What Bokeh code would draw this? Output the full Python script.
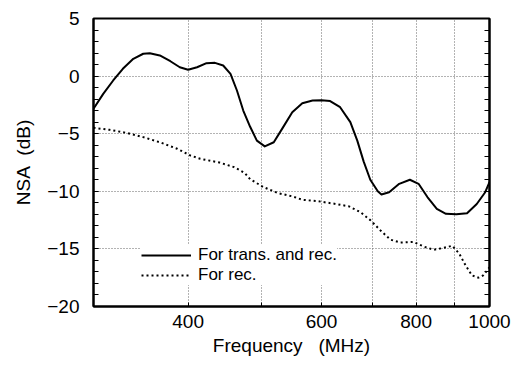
from bokeh.plotting import figure
from bokeh.models import FixedTicker, SingleIntervalTicker, LinearAxis, Legend, LegendItem, Range1d
from bokeh.embed import file_html
from bokeh.resources import INLINE

# Data
freq_tr = [300, 309, 318.5, 328, 338.6, 349, 356, 367, 379, 390, 400, 411, 423, 434, 445, 455,
           464, 473, 483, 493, 505, 519, 534, 549, 566, 584, 600, 616, 635, 655, 669, 682, 696,
           712, 720, 737, 760, 785, 806, 828, 852, 876, 904, 934, 962, 987, 1000]
nsa_tr = [-2.84, -1.54, -0.38, 0.63, 1.5, 1.94, 1.99, 1.79, 1.29, 0.77, 0.55, 0.77, 1.12, 1.15,
          0.92, 0.2, -1.25, -2.99, -4.4, -5.6, -6.1, -5.74, -4.43, -3.13, -2.35, -2.12, -2.1,
          -2.17, -2.7, -4.0, -5.6, -7.4, -9.0, -10.0, -10.28, -10.08, -9.35, -9.0, -9.35, -10.5,
          -11.52, -11.95, -12.0, -11.9, -11.1, -10.08, -9.2]

freq_r = [300, 315, 333, 349, 367, 387, 403, 415, 440, 460, 475, 483, 503, 526, 550, 566, 592,
          624, 652, 675, 696, 718, 740, 763, 794, 819, 844, 871, 893, 912, 930, 948, 967, 981, 1000]
nsa_r = [-4.49, -4.66, -4.95, -5.3, -5.74, -6.31, -6.9, -7.18, -7.5, -7.9, -8.4, -8.95, -9.64,
         -10.16, -10.45, -10.74, -10.85, -11.08, -11.3, -11.8, -12.5, -13.4, -14.2, -14.45, -14.4,
         -14.8, -15.08, -14.9, -14.73, -15.4, -16.44, -17.3, -17.5, -17.3, -16.6]

x_ticks = [400, 500, 600, 700, 800, 900, 1000]
x_tick_labels = ["400", "", "600", "", "800", "", "1000"]
x_grid = [400, 500, 600, 700, 800, 900]
y_grid = [-15, -10, -5, 0]

FONT = "Liberation Sans"
NB = "\u00a0"

p = figure(width=517, height=368, x_axis_type="log", output_backend="svg", toolbar_location=None,
           x_range=Range1d(300, 1000), y_range=Range1d(-20, 5),
           min_border_left=93, min_border_right=28, min_border_top=18, min_border_bottom=62)
p.background_fill_color = "white"
p.border_fill_color = "white"
p.outline_line_color = "black"
p.outline_line_width = 2

r1 = p.line(freq_tr, nsa_tr, line_color="black", line_width=2, line_join="round")
r2 = p.line(freq_r, nsa_r, line_color="black", line_width=2, line_dash="2 3")

# grids
p.xgrid.ticker = FixedTicker(ticks=x_grid)
p.ygrid.ticker = FixedTicker(ticks=y_grid)
for g in (p.xgrid, p.ygrid):
    g.grid_line_color = "#666666"
    g.grid_line_width = 1
    g.grid_line_dash = "1 2"

# x axis
xa = p.xaxis[0]
xa.ticker = FixedTicker(ticks=x_ticks, minor_ticks=[])
xa.major_label_overrides = {t: l for t, l in zip(x_ticks, x_tick_labels)}
xa.axis_label = "Frequency" + NB * 3 + "(MHz)"
xa.major_tick_in = 4
xa.major_tick_out = 0
xa.minor_tick_in = 0
xa.minor_tick_out = 0
xa.major_label_standoff = 8
xa.axis_label_standoff = 4

# y axis
ya = p.yaxis[0]
ya.ticker = SingleIntervalTicker(interval=5, num_minor_ticks=5)
ya.axis_label = "NSA" + NB * 2 + "(dB)"
ya.major_tick_in = 5
ya.major_tick_out = 0
ya.minor_tick_in = 5
ya.minor_tick_out = 0
ya.major_label_standoff = 14
ya.axis_label_standoff = 10

ra = LinearAxis(ticker=SingleIntervalTicker(interval=5, num_minor_ticks=5))
ra.major_tick_in = 5
ra.major_tick_out = 0
ra.minor_tick_in = 5
ra.minor_tick_out = 0
ra.major_label_standoff = 0
p.add_layout(ra, "right")

for ax in (xa, ya, ra):
    ax.axis_line_color = "black"
    ax.axis_line_width = 2
    ax.major_tick_line_color = "black"
    ax.minor_tick_line_color = "black"
    ax.major_tick_line_width = 1
    ax.minor_tick_line_width = 1
    ax.major_label_text_font = FONT
    ax.major_label_text_font_size = "19px"
    ax.major_label_text_color = "black" if ax is not ra else None
    ax.axis_label_text_font = FONT
    ax.axis_label_text_font_size = "19px"
    ax.axis_label_text_font_style = "normal"
    ax.axis_label_text_color = "black"

legend = Legend(items=[LegendItem(label="For trans. and rec.", renderers=[r1]),
                       LegendItem(label="For rec.", renderers=[r2])],
                location=(48, 21))
legend.label_text_font = FONT
legend.label_text_font_size = "17px"
legend.label_text_color = "black"
legend.glyph_width = 50
legend.glyph_height = 18
legend.label_height = 18
legend.label_standoff = 7
legend.spacing = 0
legend.padding = 10
legend.margin = 0
legend.border_line_color = None
legend.background_fill_color = "white"
legend.background_fill_alpha = 1.0
p.add_layout(legend, "center")

open("out.html", "w").write(file_html(p, INLINE))
